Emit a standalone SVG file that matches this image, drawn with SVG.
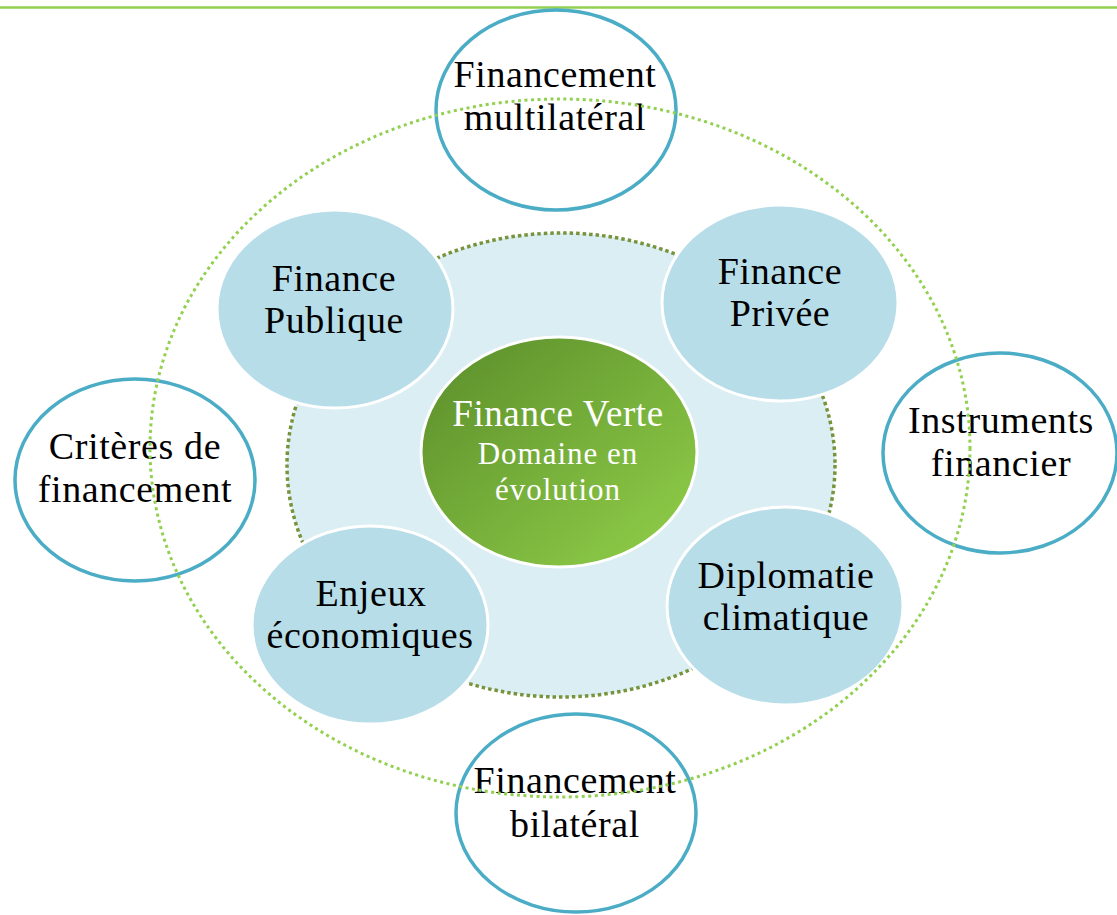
<svg xmlns="http://www.w3.org/2000/svg" width="1117" height="915" viewBox="0 0 1117 915">
<defs>
<linearGradient id="gv" x1="0" y1="0" x2="1" y2="1">
<stop offset="0" stop-color="#5a8c2a"/>
<stop offset="1" stop-color="#92d14a"/>
</linearGradient>
<style>
.lbl{font-family:"Liberation Serif","Times New Roman",serif;font-size:38px;letter-spacing:0.6px;fill:#000;text-anchor:middle}
.blue{fill:#b7dde8;stroke:#fff;stroke-width:3}
.outer{fill:#fff;stroke:#4bacc6;stroke-width:3.5}
.cw{font-family:"Liberation Serif","Times New Roman",serif;fill:#fff;text-anchor:middle}
</style>
</defs>
<rect width="1117" height="915" fill="#fff"/>
<line x1="0" y1="7.5" x2="1117" y2="7.5" stroke="#92d050" stroke-width="2.5"/>
<g id="domaine">
<ellipse cx="561" cy="465" rx="274" ry="232" fill="#daeef3" stroke="#77933c" stroke-width="3.5" stroke-dasharray="3.5 3"/>
</g>
<g id="finance-publique">
<ellipse class="blue" cx="335" cy="309" rx="118" ry="99"/>
<text class="lbl" x="334" y="291">Finance</text>
<text class="lbl" x="334" y="333">Publique</text>
</g>
<g id="finance-privee">
<ellipse class="blue" cx="780" cy="303" rx="118" ry="98"/>
<text class="lbl" x="780" y="284">Finance</text>
<text class="lbl" x="780" y="326">Privée</text>
</g>
<g id="enjeux">
<ellipse class="blue" cx="370" cy="625" rx="118" ry="99"/>
<text class="lbl" x="371" y="606">Enjeux</text>
<text class="lbl" x="370" y="648">économiques</text>
</g>
<g id="diplomatie">
<ellipse class="blue" cx="785" cy="606" rx="118" ry="99"/>
<text class="lbl" x="786" y="588">Diplomatie</text>
<text class="lbl" x="786" y="630">climatique</text>
</g>
<g id="finance-verte">
<ellipse cx="559" cy="452" rx="138" ry="115" fill="url(#gv)" stroke="#fff" stroke-width="3"/>
<text class="cw" x="558" y="426" font-size="37" letter-spacing="0.6">Finance Verte</text>
<text class="cw" x="558" y="464" font-size="31" letter-spacing="1">Domaine en</text>
<text class="cw" x="558" y="500" font-size="31" letter-spacing="1">évolution</text>
</g>
<g id="multilateral">
<ellipse class="outer" cx="556" cy="110" rx="120" ry="100"/>
<text class="lbl" x="555" y="87">Financement</text>
<text class="lbl" x="555" y="130">multilatéral</text>
</g>
<g id="criteres">
<ellipse class="outer" cx="135" cy="480" rx="120" ry="101"/>
<text class="lbl" x="135" y="459">Critères de</text>
<text class="lbl" x="135" y="502">financement</text>
</g>
<g id="instruments">
<ellipse class="outer" cx="1000" cy="453" rx="117" ry="100"/>
<text class="lbl" x="1001" y="433">Instruments</text>
<text class="lbl" x="1001" y="476">financier</text>
</g>
<g id="bilateral">
<ellipse class="outer" cx="576" cy="813" rx="120" ry="99"/>
<text class="lbl" x="575" y="793">Financement</text>
<text class="lbl" x="575" y="837">bilatéral</text>
</g>
<g id="connectors">
<ellipse cx="560" cy="448" rx="410" ry="349" fill="none" stroke="#92d050" stroke-width="3" stroke-dasharray="3 3.5"/>
</g>
</svg>
